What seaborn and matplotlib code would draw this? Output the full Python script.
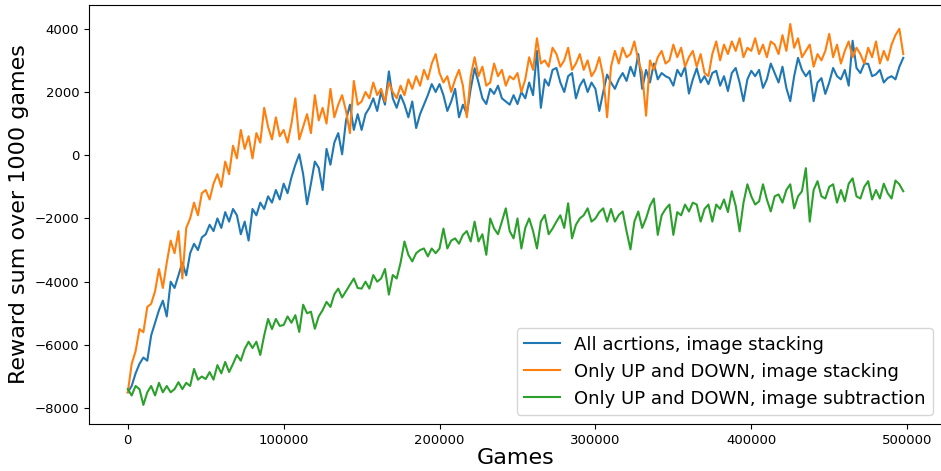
import numpy as np
import pandas as pd
import matplotlib
matplotlib.use('Agg')
import matplotlib.pyplot as plt
import seaborn as sns

# games axis: one point every 2500 games
games = list(range(0, 500000, 2500))

labels = ['All acrtions, image stacking',
          'Only UP and DOWN, image stacking',
          'Only UP and DOWN, image subtraction']

all_actions_stacking = [
    -7500, -7300, -6900, -6600, -6400, -6500, -5700, -5300, -4900, -4600,
    -5100, -4000, -4200, -3800, -3400, -3800, -3100, -2800, -3000, -2600,
    -2500, -2200, -2400, -2000, -2300, -1800, -2100, -1700, -1900, -2500,
    -2100, -2700, -1700, -1900, -1500, -1700, -1300, -1500, -1100, -1400,
    -900, -1200, -700, -300, 30, -600, -1550, -900, -200, -400,
    -1100, 200, -300, 400, 700, 30, 1100, 1600, 800, 1300,
    800, 1300, 1500, 1800, 1400, 2000, 1600, 2650, 1800, 1500,
    1900, 1600, 1200, 1700, 860, 1300, 1600, 1900, 2250, 2000,
    2250, 1900, 1400, 1700, 2100, 1200, 1600, 1300, 2100, 2750,
    2300, 1800, 1620, 2100, 1940, 2200, 1800, 1700, 1600, 1900,
    1620, 2000, 1800, 2300, 1900, 3300, 1500, 2400, 2200, 2700,
    2760, 2300, 2000, 2500, 2600, 1800, 2200, 2400, 2000, 2300,
    2100, 1400, 2000, 2550, 2300, 2100, 2400, 2600, 2350, 2800,
    2500, 3200, 2100, 2700, 2300, 2900, 2400, 2600, 2500, 2440,
    2200, 2700, 2500, 2800, 1950, 2400, 2750, 2300, 2500, 2250,
    2600, 2670, 2200, 2500, 2030, 2600, 2760, 2300, 1710, 2400,
    2670, 2500, 2700, 2130, 2400, 2900, 2600, 2300, 2800, 2130,
    1710, 2500, 3080, 2700, 2500, 2670, 1710, 2300, 2440, 1940,
    2300, 2760, 2500, 2400, 2700, 2200, 3620, 2760, 2600, 2900,
    2890, 2500, 2560, 2700, 2300, 2440, 2500, 2400, 2800, 3080,
]

updown_stacking = [
    -7500, -6600, -6200, -5500, -5600, -4800, -4700, -4300, -3600, -4200,
    -3400, -2700, -3100, -2400, -3900, -2300, -2000, -1500, -1900, -1200,
    -1100, -1400, -900, -600, -1000, -200, -600, 300, -100, 800,
    200, 600, -100, 700, 400, 1500, 900, 500, 1200, 600,
    800, 400, 1000, 1800, 500, 900, 1300, 700, 1900, 1100,
    1500, 1000, 2100, 1200, 1600, 1900, 1400, 700, 2350, 1600,
    1700, 2000, 1800, 2300, 1900, 2100, 1700, 2300, 2000, 1800,
    2200, 1900, 2400, 2100, 2500, 2200, 2700, 2400, 2900, 3200,
    2600, 2300, 2500, 2000, 2400, 2700, 2200, 1200, 2500, 3100,
    2500, 2800, 2200, 2300, 2900, 2500, 2700, 2200, 2500, 2400,
    2600, 2000, 2400, 3100, 2700, 3700, 2900, 3000, 2800, 3400,
    3200, 2800, 3000, 3400, 2700, 2900, 3200, 2700, 3000, 2500,
    2700, 3100, 2500, 1200, 2800, 3300, 2900, 3400, 3100, 3200,
    3600, 3000, 2600, 1250, 3000, 2700, 3100, 3300, 2900, 3000,
    3500, 3100, 3400, 2800, 3100, 3300, 2800, 3200, 2600, 2500,
    3200, 3600, 3000, 3500, 3200, 3600, 3300, 3700, 3100, 3400,
    3300, 3700, 3200, 3500, 3100, 3600, 3500, 3200, 3800, 3300,
    4150, 3400, 3700, 3100, 3300, 3500, 2800, 3200, 3000, 3300,
    3840, 3100, 3500, 2900, 3300, 3600, 3100, 3400, 3200, 2900,
    3400, 3100, 3600, 2900, 3300, 3000, 3500, 3800, 4000, 3200,
]

updown_subtraction = [
    -7400, -7600, -7300, -7400, -7900, -7500, -7300, -7600, -7200, -7500,
    -7300, -7500, -7400, -7180, -7400, -7200, -7300, -6760, -7100, -7000,
    -7080, -6860, -7100, -6640, -6900, -6540, -6860, -6600, -6320, -6500,
    -6130, -5900, -6100, -5900, -6320, -5700, -5180, -5500, -5180, -5400,
    -5370, -5100, -5300, -5060, -5590, -4730, -5000, -4950, -5490, -5100,
    -4900, -4640, -4800, -4400, -4220, -4500, -4300, -4100, -3900, -4200,
    -4220, -4000, -4220, -3790, -4000, -3900, -3600, -4410, -3790, -3900,
    -3400, -2730, -3150, -3360, -3100, -3000, -2950, -3200, -2950, -3100,
    -2950, -2320, -2950, -2700, -2630, -2800, -2520, -2400, -2730, -2100,
    -2730, -2500, -3150, -2000, -2320, -2500, -2100, -1680, -2400, -2630,
    -2000, -2950, -2300, -2000, -2400, -2950, -2100, -1890, -2500, -2320,
    -2100, -1900, -2300, -1520, -2630, -2200, -2000, -1900, -1680, -2100,
    -2000, -1800, -1680, -2100, -1700, -2100, -1890, -1780, -2410, -2980,
    -2100, -1780, -2300, -2000, -1600, -1370, -2520, -1900, -1700, -1560,
    -2520, -1800, -1900, -1560, -1780, -1500, -1560, -2100, -1700, -1560,
    -2100, -1560, -1700, -1400, -1800, -1140, -1600, -2410, -1500, -920,
    -1300, -1560, -1460, -920, -1400, -1780, -1300, -1240, -1500, -1100,
    -920, -1680, -1300, -1140, -410, -2100, -1100, -820, -1300, -1370,
    -1000, -920, -1500, -1100, -1460, -900, -730, -1300, -1370, -1000,
    -820, -1400, -1100, -1370, -900, -1200, -1370, -800, -920, -1140,
]

df = pd.DataFrame({
    'Games': games * 3,
    'Reward': all_actions_stacking + updown_stacking + updown_subtraction,
    'Run': [labels[0]] * len(games) + [labels[1]] * len(games) + [labels[2]] * len(games),
})

fig = plt.figure(figsize=(9.41, 4.71), dpi=100)
ax = fig.add_axes([0.0946, 0.0998, 0.9065, 0.8896])

sns.lineplot(data=df, x='Games', y='Reward', hue='Run', hue_order=labels,
             palette=['#1f77b4', '#ff7f0e', '#2ca02c'], linewidth=1.5, ax=ax)

ax.set_xlabel('Games', size=16, labelpad=1)
ax.set_ylabel('Reward sum over 1000 games', size=16)
ax.set_yticks([-8000, -6000, -4000, -2000, 0, 2000, 4000])
ax.set_xticks([0, 100000, 200000, 300000, 400000, 500000])
ax.tick_params(labelsize=9.5)
ax.legend(loc='lower right', fontsize=13, title=None)

fig.savefig('out.png', dpi=100)
